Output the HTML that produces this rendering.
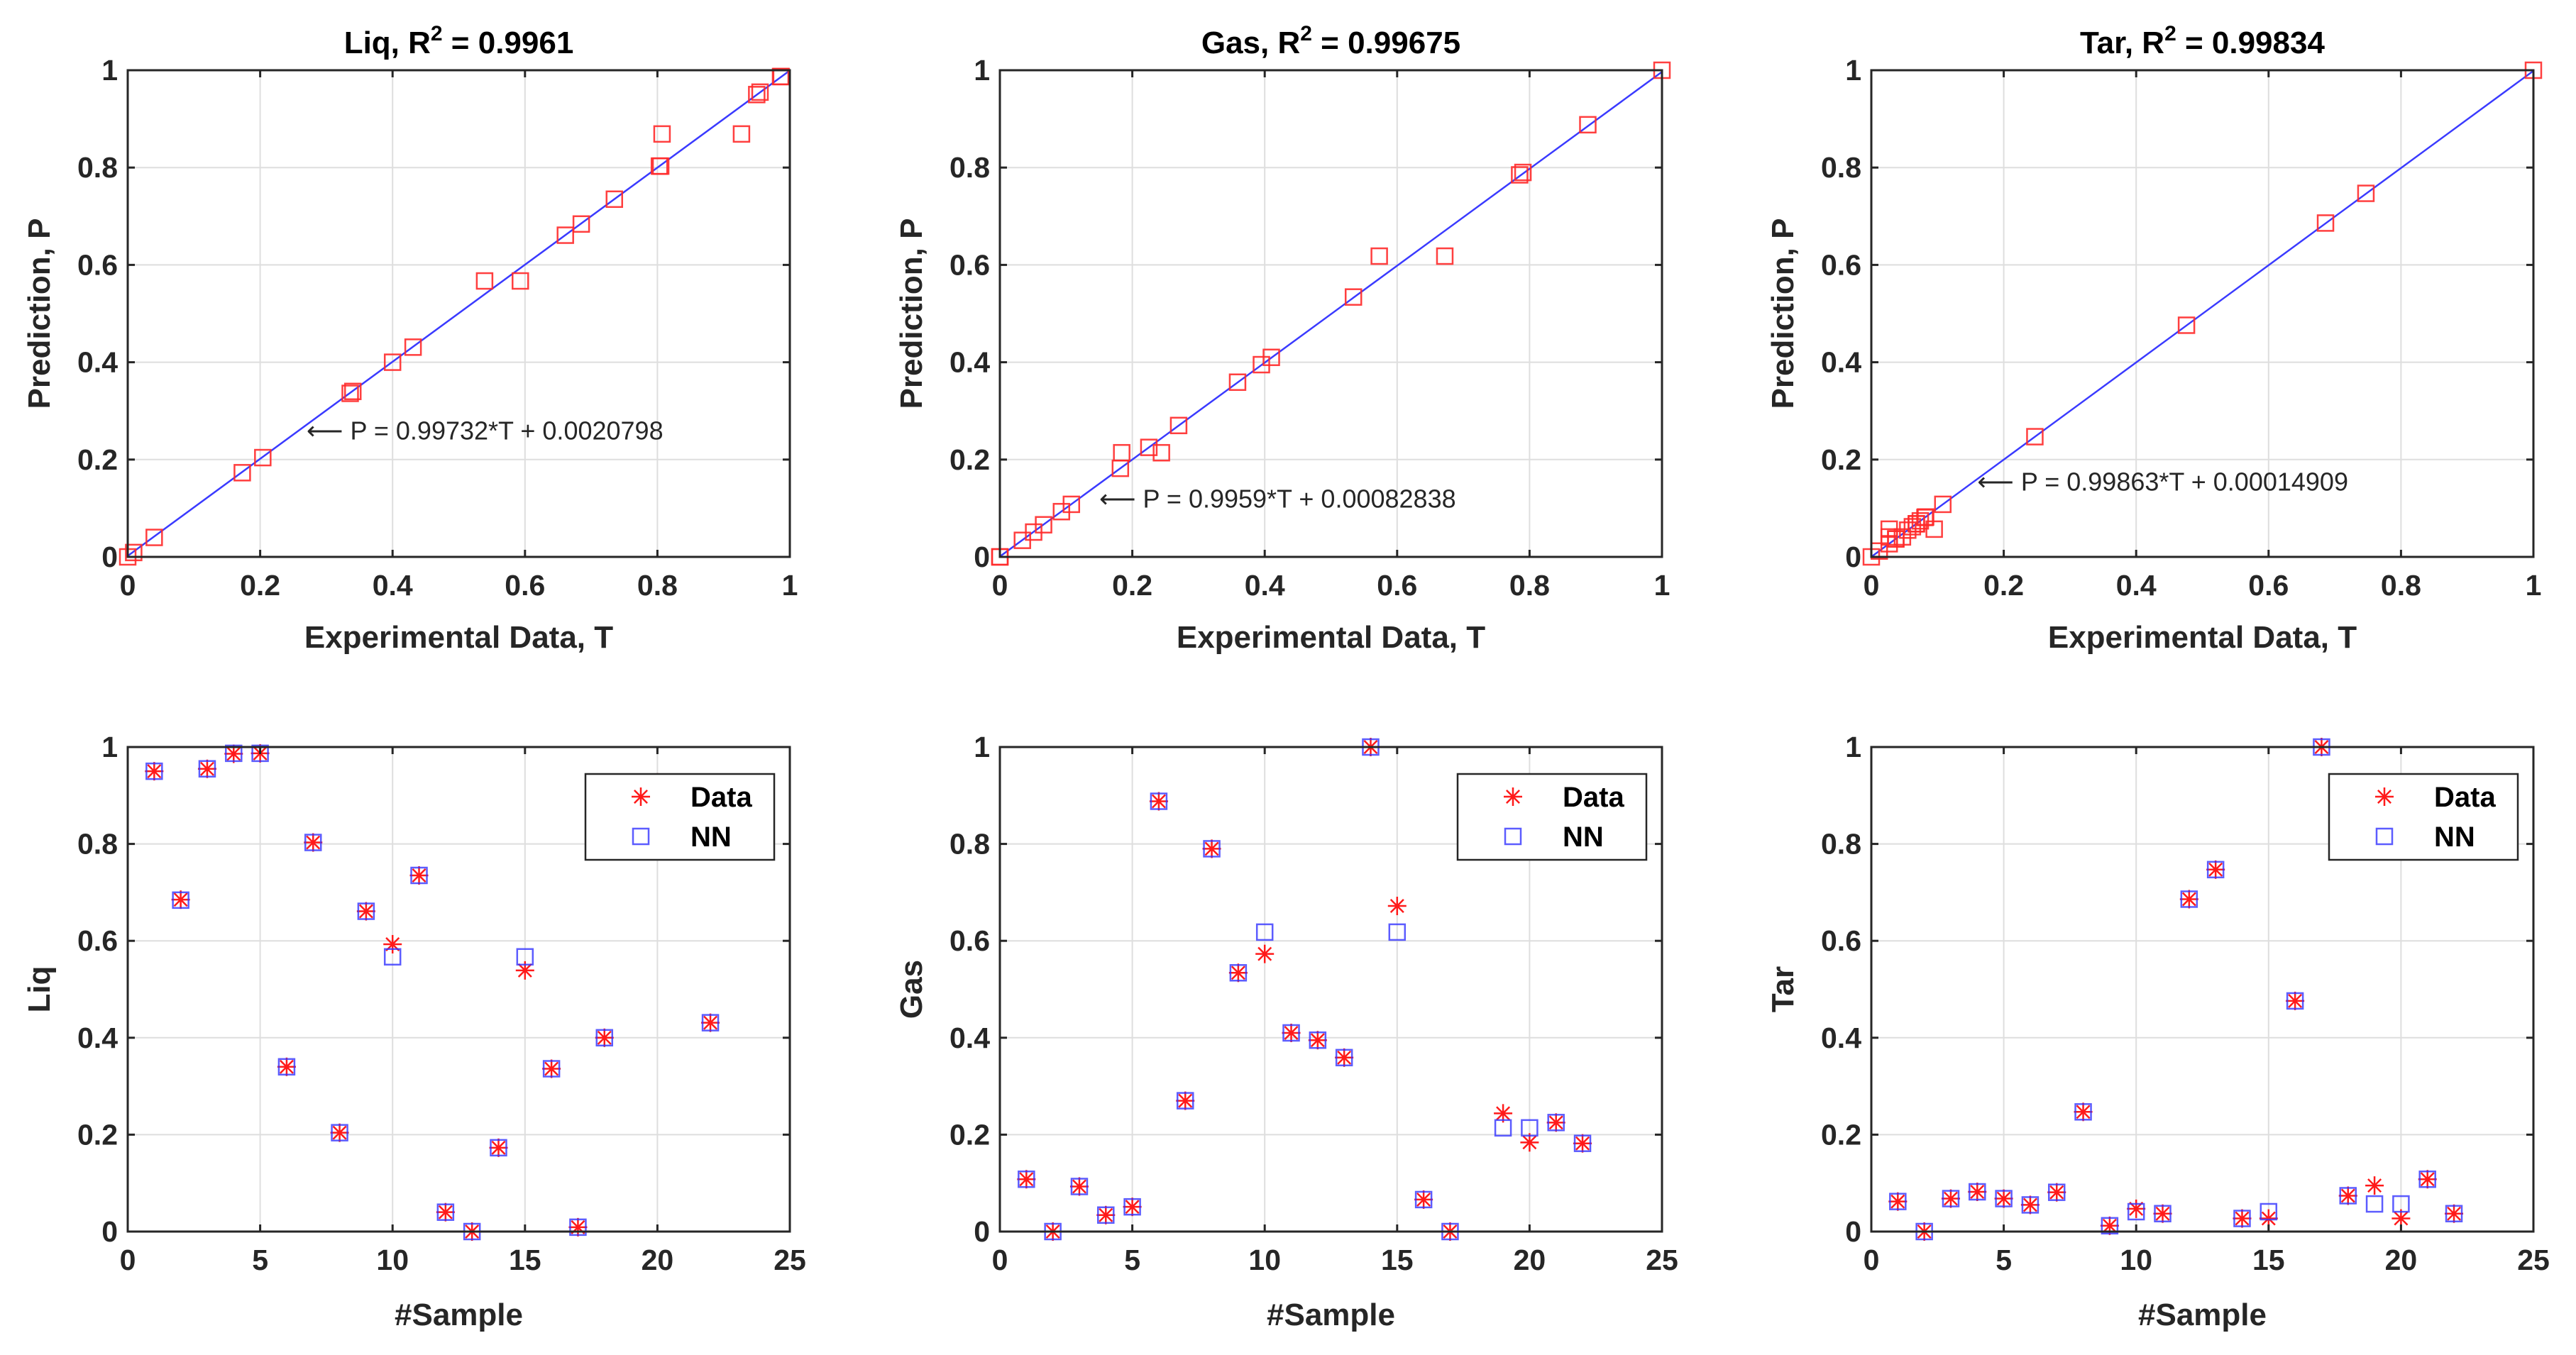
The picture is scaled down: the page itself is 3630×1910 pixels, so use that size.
<!DOCTYPE html>
<html><head><meta charset="utf-8">
<style>
html,body{margin:0;padding:0;background:#fff;}
svg{display:block;font-family:"Liberation Sans",Arial,sans-serif;}
</style></head>
<body>
<svg id="fig" width="3630" height="1910" viewBox="0 0 3630 1910" xmlns="http://www.w3.org/2000/svg"></svg>
<script>
// ---- data ----
const sampleIdx = [1,2,3,4,5,6,7,8,9,10,11,12,13,14,15,16,17,18,19,20,21,22];
const liqData = [0.95,0.685,0.955,0.986,0.987,0.34,0.803,0.204,0.661,0.593,0.735,0.04,0,0.173,0.539,0.336,0.009,0.4,0.807,0.927,0.805,0.431];
const liqNN   = [0.95,0.684,0.955,0.987,0.987,0.34,0.803,0.204,0.661,0.567,0.735,0.04,0,0.173,0.567,0.336,0.009,0.4,0.869,0.869,0.803,0.431];
const liqHidden = [19,20,21];
const gasData = [0.108,0,0.093,0.034,0.051,0.888,0.27,0.79,0.534,0.573,0.41,0.395,0.359,1,0.672,0.066,0,0.785,0.244,0.184,0.225,0.182];
const gasNN   = [0.108,0,0.093,0.034,0.051,0.888,0.27,0.79,0.534,0.618,0.41,0.395,0.359,1,0.618,0.066,0,0.785,0.214,0.214,0.225,0.182];
const gasHidden = [18];
const tarData = [0.062,0,0.068,0.082,0.068,0.055,0.081,0.247,0.012,0.047,0.037,0.686,0.747,0.027,0.027,0.476,1,0.074,0.095,0.027,0.108,0.037];
const tarNN   = [0.062,0,0.068,0.082,0.068,0.055,0.081,0.247,0.012,0.041,0.037,0.686,0.747,0.027,0.041,0.476,1,0.074,0.057,0.057,0.108,0.037];
const tarHidden = [];
const fitSlope = [0.99732,0.9959,0.99863];
const fitIntercept = [0.0020798,0.00082838,0.00014909];
const r2Labels = ["0.9961","0.99675","0.99834"];
const names = ["Liq","Gas","Tar"];
const eqLabels = ["P = 0.99732*T + 0.0020798","P = 0.9959*T + 0.00082838","P = 0.99863*T + 0.00014909"];
const eqAnchorT = [0.27,0.15,0.16];
const eqAnchorP = [0.26,0.12,0.155];
const unitTicks = [0,0.2,0.4,0.6,0.8,1];
const unitTickLabels = ["0","0.2","0.4","0.6","0.8","1"];
const sampleTicks = [0,5,10,15,20,25];
const sampleTickLabels = ["0","5","10","15","20","25"];

// ---- layout ----
const NS="http://www.w3.org/2000/svg";
const svg=document.getElementById('fig');
const colX=[180,1409,2637], W=933;
const topY=[99,1053], H=[686,683];
const TXT="#262626";
function el(tag,attrs,parent){const e=document.createElementNS(NS,tag);for(const k in attrs)e.setAttribute(k,attrs[k]);(parent||svg).appendChild(e);return e;}

function drawFrame(g,x0,y0,h,xTicks,xLabels,xmax){
  const sx=v=>x0+v/xmax*W, sy=v=>y0+h-v*h;
  const grid=el('g',{},g);
  
  
  xTicks.forEach(t=>{ if(t>0&&t<xmax) el('line',{x1:sx(t),x2:sx(t),y1:y0,y2:y0+h,stroke:'#dedede','stroke-width':2},grid);});
  unitTicks.forEach(t=>{ if(t>0&&t<1) el('line',{x1:x0,x2:x0+W,y1:sy(t),y2:sy(t),stroke:'#dedede','stroke-width':2},grid);});
  return {sx,sy,grid};
}
function drawAxesBox(g,x0,y0,h,xTicks,xLabels,xmax,sx,sy){
  el('rect',{x:x0,y:y0,width:W,height:h,fill:'none',stroke:TXT,'stroke-width':3},g);
  xTicks.forEach((t,i)=>{
    el('line',{x1:sx(t),x2:sx(t),y1:y0+h,y2:y0+h-10,stroke:TXT,'stroke-width':3},g);
    el('line',{x1:sx(t),x2:sx(t),y1:y0,y2:y0+10,stroke:TXT,'stroke-width':3},g);
    const tx=el('text',{x:sx(t),y:y0+h+54,'text-anchor':'middle','font-size':41,'font-weight':'bold',fill:TXT},g);
    
    
    tx.textContent=xLabels[i];
  });
  unitTicks.forEach((t,i)=>{
    el('line',{x1:x0,x2:x0+10,y1:sy(t),y2:sy(t),stroke:TXT,'stroke-width':3},g);
    el('line',{x1:x0+W,x2:x0+W-10,y1:sy(t),y2:sy(t),stroke:TXT,'stroke-width':3},g);
    const tx=el('text',{x:x0-14,y:sy(t)+14,'text-anchor':'end','font-size':41,'font-weight':'bold',fill:TXT},g);
    
    
    tx.textContent=unitTickLabels[i];
  });
}
function square(g,x,y,color,op){
  const r=el('rect',{x:x-11,y:y-11,width:22,height:22,fill:'none',stroke:color,'stroke-width':2.5,opacity:op||1},g);
  
  
  return r;
}
function star(g,x,y,color){
  const s=el('g',{stroke:color,'stroke-width':2.5},g);
  
  
  const r=13;
  el('line',{x1:x-r,x2:x+r,y1:y,y2:y},s);
  el('line',{x1:x,x2:x,y1:y-r,y2:y+r},s);
  el('line',{x1:x-r*0.7,x2:x+r*0.7,y1:y-r*0.7,y2:y+r*0.7},s);
  el('line',{x1:x-r*0.7,x2:x+r*0.7,y1:y+r*0.7,y2:y-r*0.7},s);
}

const dataSets=[[liqData,liqNN,liqHidden],[gasData,gasNN,gasHidden],[tarData,tarNN,tarHidden]];

for(let c=0;c<3;c++){
  const [dat,nn]=dataSets[c];
  const x0=colX[c], y0=topY[0], h=H[0];
  const g=el('g',{});
  
  
  const f=drawFrame(g,x0,y0,h,unitTicks,unitTickLabels,1);
  const sx=f.sx, sy=f.sy;
  const ln=el('line',{x1:sx(0),y1:sy(fitIntercept[c]),x2:sx(1),y2:sy(fitSlope[c]+fitIntercept[c]),stroke:'#3a3aff','stroke-width':2.5},g);
  
  
  dat.forEach((t,i)=>square(g,sx(t),sy(nn[i]),'#ff2a2a',0.9));
  drawAxesBox(g,x0,y0,h,unitTicks,unitTickLabels,1,sx,sy);
  const eq=el('text',{x:sx(eqAnchorT[c]),y:sy(eqAnchorP[c])+13,'font-size':36,fill:TXT},g);
  
  
  eq.textContent='\u27F5 '+eqLabels[c];
  const ti=el('text',{x:x0+W/2,y:75,'text-anchor':'middle','font-size':44,'font-weight':'bold',fill:'#000'},g);
  
  
  ti.innerHTML=names[c]+', R<tspan dy="-18" font-size="30">2</tspan><tspan dy="18"> = '+r2Labels[c]+'</tspan>';
  const xl=el('text',{x:x0+W/2,y:913,'text-anchor':'middle','font-size':44,'font-weight':'bold',fill:TXT},g);
  
  
  xl.textContent='Experimental Data, T';
  const yl=el('text',{x:0,y:0,'text-anchor':'middle','font-size':44,'font-weight':'bold',fill:TXT,transform:`translate(${x0-110},${y0+h/2}) rotate(-90)`},g);
  
  
  yl.textContent='Prediction, P';

  const by=topY[1], bh=H[1];
  const g2=el('g',{});
  
  
  const f2=drawFrame(g2,x0,by,bh,sampleTicks,sampleTickLabels,25);
  const bx=f2.sx, byy=f2.sy;
  sampleIdx.forEach((s,i)=>{ star(g2,bx(s),byy(dat[i]),'#ff1a1a'); square(g2,bx(s),byy(nn[i]),'#3333ff',0.8); });
  drawAxesBox(g2,x0,by,bh,sampleTicks,sampleTickLabels,25,bx,byy);
  const lg=el('g',{},g2);
  
  
  const lx=x0+645, ly=by+38;
  el('rect',{x:lx,y:ly,width:266,height:121,fill:'#fff',stroke:TXT,'stroke-width':2.5},lg);
  star(lg,lx+78,ly+32,'#ff1a1a');
  square(lg,lx+78,ly+88,'#3333ff',0.8);
  const t1=el('text',{x:lx+148,y:ly+46,'font-size':40,'font-weight':'bold',fill:'#000'},lg);
  
  
  t1.textContent='Data';
  const t2=el('text',{x:lx+148,y:ly+102,'font-size':40,'font-weight':'bold',fill:'#000'},lg);
  
  
  t2.textContent='NN';
  const xl2=el('text',{x:x0+W/2,y:1868,'text-anchor':'middle','font-size':44,'font-weight':'bold',fill:TXT},g2);
  
  
  xl2.textContent='#Sample';
  const yl2=el('text',{x:0,y:0,'text-anchor':'middle','font-size':44,'font-weight':'bold',fill:TXT,transform:`translate(${x0-110},${by+bh/2}) rotate(-90)`},g2);
  
  
  yl2.textContent=names[c];
}
</script>
</body></html>
